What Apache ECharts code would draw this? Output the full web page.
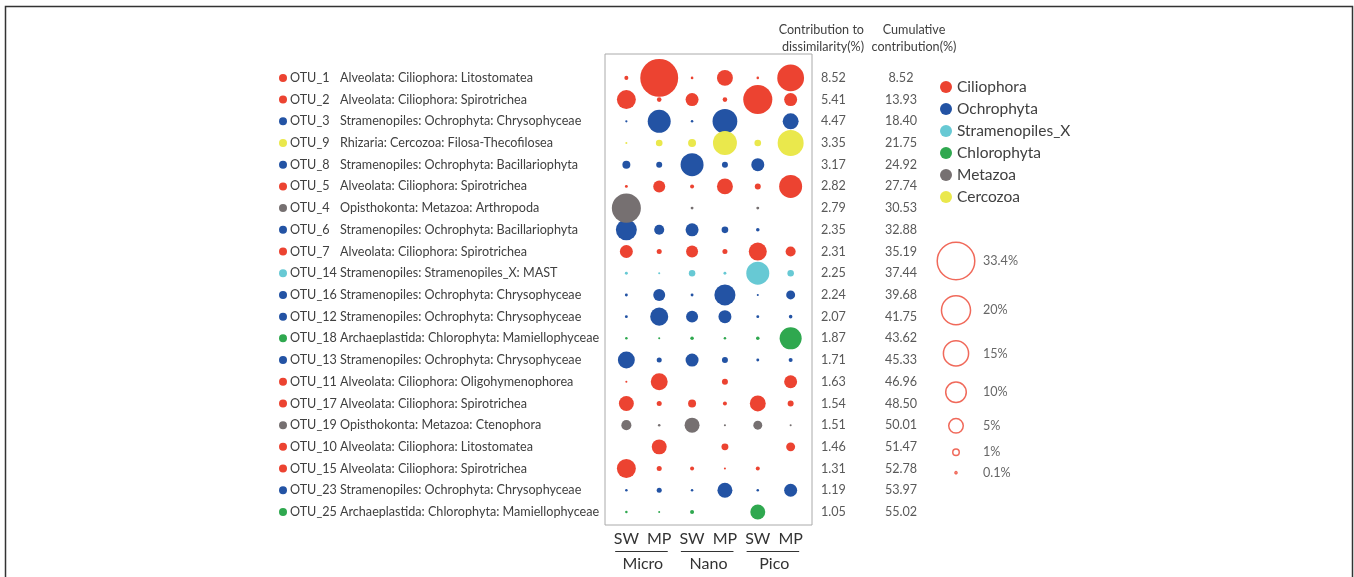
<!DOCTYPE html>
<html>
<head>
<meta charset="utf-8">
<script src="https://cdn.jsdelivr.net/npm/echarts@6/dist/echarts.min.js"></script>
<style>
  html, body { margin: 0; padding: 0; background: #fff; }
  #chart { width: 1354px; height: 577px; }
</style>
</head>
<body>
<div id="chart"></div>
<script>
// OTUs in order of their contribution to dissimilarity
const otuIds = ['OTU_1','OTU_2','OTU_3','OTU_9','OTU_8','OTU_5','OTU_4','OTU_6','OTU_7','OTU_14','OTU_16',
  'OTU_12','OTU_18','OTU_13','OTU_11','OTU_17','OTU_19','OTU_10','OTU_15','OTU_23','OTU_25'];
const taxonomy = [
  'Alveolata: Ciliophora: Litostomatea',
  'Alveolata: Ciliophora: Spirotrichea',
  'Stramenopiles: Ochrophyta: Chrysophyceae',
  'Rhizaria: Cercozoa: Filosa-Thecofilosea',
  'Stramenopiles: Ochrophyta: Bacillariophyta',
  'Alveolata: Ciliophora: Spirotrichea',
  'Opisthokonta: Metazoa: Arthropoda',
  'Stramenopiles: Ochrophyta: Bacillariophyta',
  'Alveolata: Ciliophora: Spirotrichea',
  'Stramenopiles: Stramenopiles_X: MAST',
  'Stramenopiles: Ochrophyta: Chrysophyceae',
  'Stramenopiles: Ochrophyta: Chrysophyceae',
  'Archaeplastida: Chlorophyta: Mamiellophyceae',
  'Stramenopiles: Ochrophyta: Chrysophyceae',
  'Alveolata: Ciliophora: Oligohymenophorea',
  'Alveolata: Ciliophora: Spirotrichea',
  'Opisthokonta: Metazoa: Ctenophora',
  'Alveolata: Ciliophora: Litostomatea',
  'Alveolata: Ciliophora: Spirotrichea',
  'Stramenopiles: Ochrophyta: Chrysophyceae',
  'Archaeplastida: Chlorophyta: Mamiellophyceae'
];
const otuPhylum = ['Ciliophora','Ciliophora','Ochrophyta','Cercozoa','Ochrophyta','Ciliophora','Metazoa',
  'Ochrophyta','Ciliophora','Stramenopiles_X','Ochrophyta','Ochrophyta','Chlorophyta','Ochrophyta',
  'Ciliophora','Ciliophora','Metazoa','Ciliophora','Ciliophora','Ochrophyta','Chlorophyta'];

const contribution = [8.52,5.41,4.47,3.35,3.17,2.82,2.79,2.35,2.31,2.25,2.24,2.07,1.87,1.71,1.63,1.54,1.51,1.46,1.31,1.19,1.05];
const cumulative = [8.52,13.93,18.40,21.75,24.92,27.74,30.53,32.88,35.19,37.44,39.68,41.75,43.62,45.33,46.96,48.50,50.01,51.47,52.78,53.97,55.02];

// Relative abundance (%) of each OTU per size fraction and sample type; null = not detected
const microSW = [0.38,8.5,0.12,0.1,1.5,0.2,20,10.4,4,0.2,0.2,0.2,0.15,6.8,0.1,5.3,2.4,null,8.5,0.15,0.15];
const microMP = [34,0.5,12.5,1.05,0.85,3.4,null,2.4,0.6,0.1,3.4,7.7,0.1,0.6,6.8,0.6,0.15,5.3,0.6,0.6,0.05];
const nanoSW  = [0.17,4,0.15,1.5,12.5,0.38,0.2,4,3.4,1,0.2,3.4,0.3,4,null,1.5,5.3,null,0.38,0.15,0.38];
const nanoMP  = [6,0.5,14.5,13.6,0.85,6,null,1.05,0.6,0.2,10.5,4,0.15,0.85,0.85,0.38,0.1,1.15,0.1,5.3,null];
const picoSW  = [0.15,20,null,1.05,4,0.85,0.2,0.3,7.7,12.5,0.1,0.2,0.3,0.2,null,6,1.9,null,0.38,0.15,5.3];
const picoMP  = [17,4,6,16,null,12.5,null,null,2.4,1,1.9,0.3,11.5,0.38,4,0.85,0.1,1.9,null,4,null];
const columns = [microSW, microMP, nanoSW, nanoMP, picoSW, picoMP];

const colLabels = ['SW','MP','SW','MP','SW','MP'];
const sizeGroups = ['Micro','Nano','Pico'];

const phyla = ['Ciliophora','Ochrophyta','Stramenopiles_X','Chlorophyta','Metazoa','Cercozoa'];
const phylumColors = ['#EC4331','#2353A4','#67C9D4','#2FA84F','#767071','#EAE84C'];

const sizeKey = [33.4, 20, 15, 10, 5, 1, 0.1];

const FONT = 'Lato, "Noto Sans", sans-serif';
const TEXT = '#404040';
const bubbleSize = v => Math.max(2, 6.5 * Math.sqrt(v));

const rows = otuIds.map((_, i) => i);

// bubble series, one per phylum
const bubbleSeries = phyla.map((p, pi) => {
  const data = [];
  rows.forEach(r => {
    if (otuPhylum[r] !== p) return;
    columns.forEach((col, c) => {
      if (col[r] != null) data.push([c, r, col[r]]);
    });
  });
  return {
    name: p, type: 'scatter', xAxisIndex: 0, yAxisIndex: 0,
    data, symbolSize: d => bubbleSize(d[2]),
    itemStyle: { color: phylumColors[pi], opacity: 1 },
    emphasis: { disabled: true }, z: 3
  };
});

// size key: vertical stack of rings spaced by their diameters
const keyData = [];
let keyY = 261;
sizeKey.forEach((v, i) => {
  if (i > 0) keyY += (bubbleSize(sizeKey[i - 1]) + bubbleSize(v)) / 2 + 16;
  keyData.push([0.5, keyY, v]);
});

const richLabel = {
  otu: { fontFamily: FONT, fontSize: 12.6, color: TEXT, width: 50, padding: [0, 0, 0, 3] },
  tax: { fontFamily: FONT, fontSize: 12.6, color: TEXT }
};
phylumColors.forEach((c, i) => {
  richLabel['c' + i] = { width: 8, height: 8, borderRadius: 4, backgroundColor: c };
});

const yBase = { type: 'value', gridIndex: 0, inverse: true, min: -1.1, max: 20.6,
  axisLine: { show: false }, axisTick: { show: false }, splitLine: { show: false } };

const option = {
  animation: false,
  backgroundColor: '#fff',
  textStyle: { fontFamily: FONT },
  graphic: [
    { type: 'rect', shape: { x: 5.5, y: 6.5, width: 1347, height: 620 },
      style: { fill: 'none', stroke: '#333', lineWidth: 1.5 }, silent: true },
    { type: 'text', x: 864, y: 21, style: { text: 'Contribution to\ndissimilarity(%)', align: 'right',
      verticalAlign: 'top', fontFamily: FONT, fontSize: 12.6, lineHeight: 17, fill: TEXT } },
    { type: 'text', x: 914, y: 21, style: { text: 'Cumulative\ncontribution(%)', align: 'center',
      verticalAlign: 'top', fontFamily: FONT, fontSize: 12.6, lineHeight: 17, fill: TEXT } }
  ],
  legend: {
    data: phyla, orient: 'vertical', left: 940, top: 79, padding: 0,
    icon: 'circle', itemWidth: 12, itemHeight: 12, itemGap: 6, selectedMode: false,
    textStyle: { fontFamily: FONT, fontSize: 15.5, lineHeight: 16, color: TEXT }
  },
  grid: [
    { left: 605, top: 54, width: 207, height: 471, show: true, borderColor: '#aaa', borderWidth: 1,
      backgroundColor: 'transparent' },
    { left: 926, top: 0, width: 60, height: 577 }
  ],
  xAxis: [
    { type: 'value', gridIndex: 0, min: -0.65, max: 5.65, position: 'bottom',
      axisLine: { show: false }, axisTick: { show: false }, splitLine: { show: false },
      axisLabel: { customValues: [0, 1, 2, 3, 4, 5], formatter: v => colLabels[v] || '',
        fontFamily: FONT, fontSize: 16, color: '#333', margin: 6 } },
    { type: 'value', gridIndex: 0, min: -0.65, max: 5.65, position: 'bottom',
      axisLine: { show: false }, axisTick: { show: false }, splitLine: { show: false },
      axisLabel: { customValues: [0.5, 2.5, 4.5], formatter: v => sizeGroups[Math.round((v - 0.5) / 2)],
        fontFamily: FONT, fontSize: 16, color: '#333', margin: 31 } },
    { type: 'value', gridIndex: 1, min: 0, max: 1, show: false }
  ],
  yAxis: [
    Object.assign({}, yBase, { position: 'left',
      axisLabel: { customValues: rows, align: 'left', margin: 326,
        formatter: v => `{c${phyla.indexOf(otuPhylum[v])}|}{otu|${otuIds[v]}}{tax|${taxonomy[v]}}`,
        rich: richLabel } }),
    Object.assign({}, yBase, { position: 'right',
      axisLabel: { customValues: rows, align: 'left', margin: 9, formatter: v => contribution[v].toFixed(2),
        fontFamily: FONT, fontSize: 12.6, color: '#595959' } }),
    Object.assign({}, yBase, { position: 'right',
      axisLabel: { customValues: rows, align: 'center', margin: 89, formatter: v => cumulative[v].toFixed(2),
        fontFamily: FONT, fontSize: 12.6, color: '#595959' } }),
    { type: 'value', gridIndex: 1, inverse: true, min: 0, max: 577, show: false }
  ],
  series: bubbleSeries.concat([
    {
      // underline beneath each SW/MP pair
      type: 'custom', xAxisIndex: 0, yAxisIndex: 0, silent: true,
      data: [[0, 1], [2, 3], [4, 5]],
      renderItem: (params, api) => {
        const a = api.coord([api.value(0) - 0.34, 20.6]);
        const b = api.coord([api.value(1) + 0.26, 20.6]);
        return { type: 'line', shape: { x1: a[0], y1: a[1] + 26.5, x2: b[0], y2: b[1] + 26.5 },
          style: { stroke: '#333', lineWidth: 1 } };
      }
    },
    {
      name: 'sizeKey', type: 'scatter', xAxisIndex: 2, yAxisIndex: 3,
      data: keyData, symbolSize: d => bubbleSize(d[2]),
      itemStyle: { color: 'rgba(255,255,255,0)', borderColor: '#EC4331', borderWidth: 1.5 },
      label: { show: true, position: 'inside', align: 'left', offset: [27, 0],
        formatter: p => p.value[2] + '%', fontFamily: FONT, fontSize: 12.6, color: TEXT },
      emphasis: { disabled: true }
    }
  ])
};

const chart = echarts.init(document.getElementById('chart'), null, { renderer: 'canvas' });
chart.setOption(option);
</script>
</body>
</html>
